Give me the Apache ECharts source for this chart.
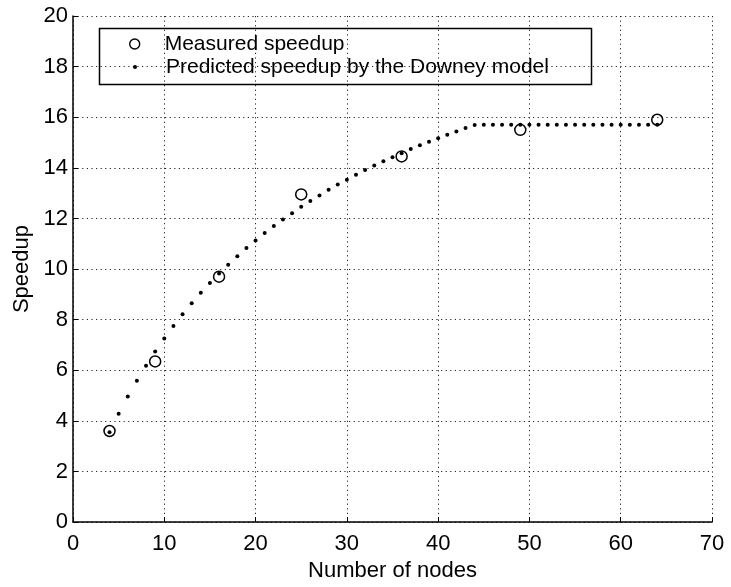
<!DOCTYPE html>
<html>
<head>
<meta charset="utf-8">
<script src="https://cdn.jsdelivr.net/npm/echarts@6/dist/echarts.min.js"></script>
<style>
  html, body { margin: 0; padding: 0; background: #fff; }
  #chart { width: 731px; height: 587px; }
</style>
</head>
<body>
<div id="chart"></div>
<script>
// Measured speedup at square node counts
const nodesMeasured = [4, 9, 16, 25, 36, 49, 64];
const speedupMeasured = [3.6, 6.35, 9.7, 12.95, 14.45, 15.5, 15.9];

// Speedup predicted by the Downey model, one value per node count 4..64
const nodesPredicted = [
  4, 5, 6, 7, 8, 9, 10, 11, 12, 13, 14, 15, 16, 17, 18, 19, 20, 21, 22, 23, 24,
  25, 26, 27, 28, 29, 30, 31, 32, 33, 34, 35, 36, 37, 38, 39, 40, 41, 42, 43, 44,
  45, 46, 47, 48, 49, 50, 51, 52, 53, 54, 55, 56, 57, 58, 59, 60, 61, 62, 63, 64
];
const speedupPredicted = [
  3.55, 4.28, 4.96, 5.59, 6.18, 6.74, 7.26, 7.75, 8.21, 8.65, 9.06, 9.45, 9.82,
  10.17, 10.51, 10.83, 11.13, 11.42, 11.70, 11.96, 12.21, 12.46, 12.69, 12.91,
  13.13, 13.34, 13.53, 13.73, 13.91, 14.09, 14.26, 14.42, 14.58, 14.74, 14.89,
  15.03, 15.17, 15.31, 15.44, 15.57, 15.69,
  15.7, 15.7, 15.7, 15.7, 15.7, 15.7, 15.7, 15.7, 15.7, 15.7,
  15.7, 15.7, 15.7, 15.7, 15.7, 15.7, 15.7, 15.7, 15.7, 15.7
];

const xTicks = { min: 0, max: 70, step: 10 };
const yTicks = { min: 0, max: 20, step: 2 };

const seriesNames = ['Measured speedup', 'Predicted speedup by the Downey model'];

const FONT = '"Liberation Sans", Arial, Helvetica, sans-serif';

const chart = echarts.init(document.getElementById('chart'), null, { renderer: 'canvas' });

const gridDots = { color: '#222', width: 1, type: [1.2, 3.4] };

function axisCommon() {
  return {
    type: 'value',
    axisLine: { show: true, onZero: false, lineStyle: { color: '#000', width: 1.5 } },
    axisTick: { show: true, inside: true, length: 5, lineStyle: { color: '#000', width: 1 } },
    splitLine: { show: true, lineStyle: gridDots },
    axisLabel: { color: '#000', fontSize: 22, fontFamily: FONT },
    nameTextStyle: { color: '#000', fontSize: 22, fontFamily: FONT }
  };
}

const xAxis = Object.assign(axisCommon(), {
  min: xTicks.min, max: xTicks.max, interval: xTicks.step,
  name: 'Number of nodes', nameLocation: 'middle', nameGap: 37
});
xAxis.axisLabel = Object.assign({}, xAxis.axisLabel, { margin: 11 });

const yAxis = Object.assign(axisCommon(), {
  min: yTicks.min, max: yTicks.max, interval: yTicks.step,
  name: 'Speedup', nameLocation: 'middle', nameGap: 40
});
yAxis.axisLabel = Object.assign({}, yAxis.axisLabel, { margin: 5 });

const legendText = (size, pad) => ({
  color: '#000', fontSize: size, fontFamily: FONT, lineHeight: 22, padding: [0, 0, 0, pad]
});

chart.setOption({
  animation: false,
  backgroundColor: '#fff',
  grid: { left: 73, right: 19, top: 16, bottom: 59, containLabel: false },
  xAxis: xAxis,
  yAxis: yAxis,
  legend: [
    {
      data: [{ name: seriesNames[0], icon: 'circle',
               itemStyle: { color: 'rgba(0,0,0,0)', borderColor: '#000', borderWidth: 1.4 } }],
      left: 129, top: 33, padding: 0,
      itemWidth: 10, itemHeight: 10,
      textStyle: legendText(21, 20),
      selectedMode: false
    },
    {
      data: [{ name: seriesNames[1], icon: 'circle', itemStyle: { color: '#000' } }],
      left: 133, top: 56, padding: 0,
      itemWidth: 4, itemHeight: 4,
      textStyle: legendText(21, 24),
      selectedMode: false
    }
  ],
  graphic: [
    {
      type: 'rect',
      shape: { x: 99.5, y: 28.5, width: 492, height: 56 },
      style: { fill: 'rgba(0,0,0,0)', stroke: '#000', lineWidth: 1.5 },
      z: 100
    }
  ],
  series: [
    {
      name: seriesNames[0],
      type: 'scatter',
      symbol: 'circle',
      symbolSize: 11,
      itemStyle: { color: 'rgba(0,0,0,0)', borderColor: '#000', borderWidth: 1.5, opacity: 1 },
      data: nodesMeasured.map((n, i) => [n, speedupMeasured[i]]),
      z: 3
    },
    {
      name: seriesNames[1],
      type: 'scatter',
      symbol: 'circle',
      symbolSize: 4,
      itemStyle: { color: '#000', opacity: 1 },
      data: nodesPredicted.map((n, i) => [n, speedupPredicted[i]]),
      z: 4
    }
  ]
});
</script>
</body>
</html>
